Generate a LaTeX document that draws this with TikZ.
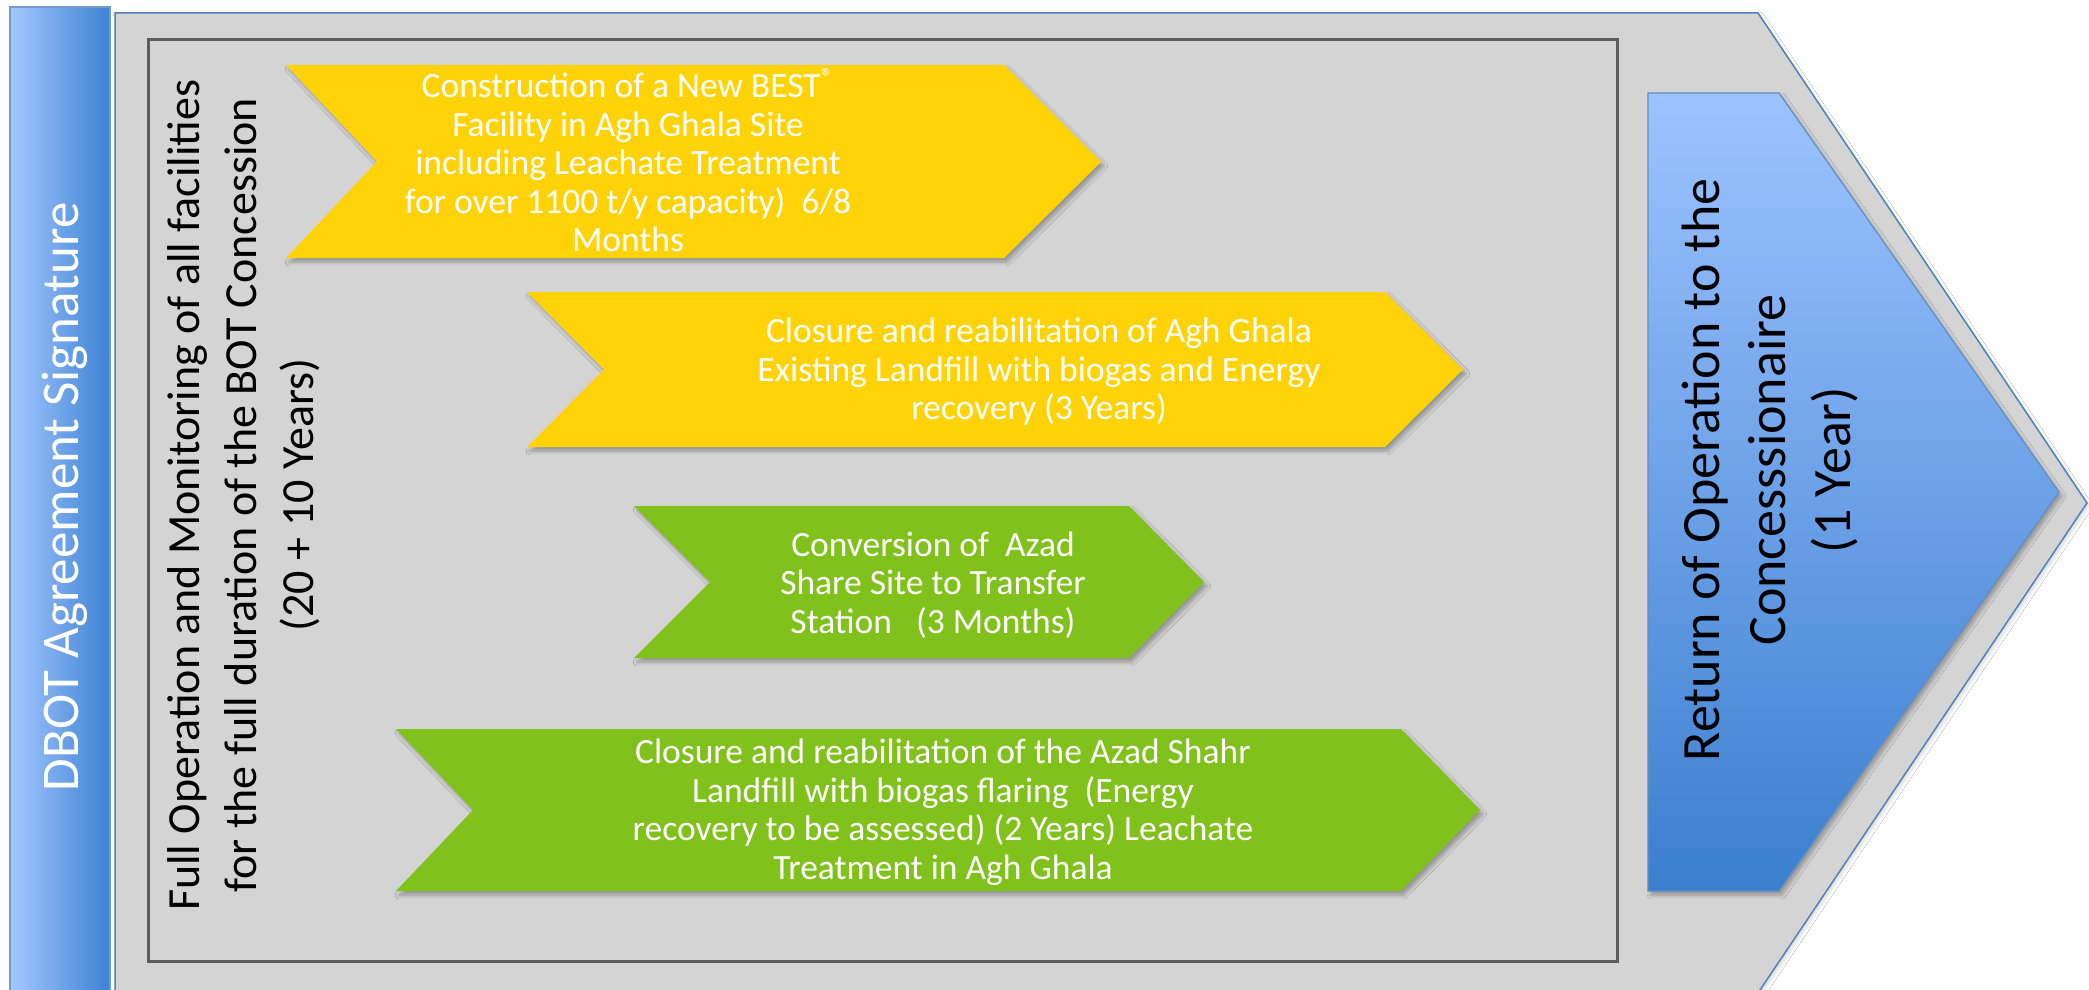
\documentclass[tikz,border=0pt]{standalone}
\usepackage{fontspec}
\setmainfont{Carlito}
\usetikzlibrary{shadows.blur}
\definecolor{bggray}{HTML}{D4D4D4}
\definecolor{edgeblue}{HTML}{4F81BD}
\definecolor{framegray}{HTML}{5C5C5C}
\definecolor{stepyellow}{HTML}{FFD308}
\definecolor{stepgreen}{HTML}{80C11C}
\definecolor{barlight}{HTML}{A3C7FF}
\definecolor{barmid}{HTML}{8AB6F5}
\definecolor{bardark}{HTML}{3E82D3}
\definecolor{rettop}{HTML}{9DC3FF}
\definecolor{retbot}{HTML}{3B7FCF}
\begin{document}
\begin{tikzpicture}[x=0.5pt,y=-0.5pt,
  softshadow/.style={blur shadow={shadow xshift=1.5pt, shadow yshift=-2pt, shadow blur steps=6, shadow opacity=30}},
  faintshadow/.style={blur shadow={shadow xshift=1pt, shadow yshift=-1.5pt, shadow blur steps=6, shadow opacity=15}},
  stepshape/.style={draw=none, softshadow},
  boxtext/.style={text=white, align=center, inner sep=0pt, font=\fontsize{17.75}{19.25}\selectfont},
  bartext/.style={text=white, inner sep=0pt, font=\fontsize{26.5}{32}\selectfont},
  optext/.style={text=black, align=center, inner sep=0pt, font=\fontsize{23}{28.5}\selectfont},
  rettext/.style={text=black, align=center, inner sep=0pt, font=\fontsize{27}{32.75}\selectfont}]
\useasboundingbox (0,0) rectangle (2089,990);
\fill[white] (0,0) rectangle (2089,990);

% left bar
\path[left color=barlight, middle color=barmid, right color=bardark, draw=edgeblue!80, line width=0.6pt]
  (10,7) rectangle (110,1000);

% main grey chevron
\path[fill=bggray, draw=edgeblue, line width=0.75pt, faintshadow]
  (115,13) -- (1758,13) -- (2087,503) -- (1758,993) -- (115,993) -- cycle;

% inner frame
\draw[framegray, line width=1.5pt] (148,40) rectangle (1617,961);

% return chevron
\path[top color=rettop, bottom color=retbot, draw=edgeblue!90, line width=0.6pt, softshadow]
  (1648,93) -- (1779,93) -- (2059,492) -- (1779,891) -- (1648,891) -- cycle;

% step chevrons
\path[fill=stepyellow, stepshape]
  (286,65) -- (1004,65) -- (1101,162) -- (1004,258) -- (286,258) -- (377,161.5) -- cycle;
\path[fill=stepyellow, stepshape]
  (527,292) -- (1385,292) -- (1463,369.5) -- (1385,447) -- (527,447) -- (604,369.5) -- cycle;
\path[fill=stepgreen, stepshape]
  (634,506) -- (1129,506) -- (1204,582) -- (1129,658) -- (634,658) -- (710,582) -- cycle;
\path[fill=stepgreen, stepshape]
  (396,729) -- (1401,729) -- (1480,810) -- (1401,891) -- (396,891) -- (473,810) -- cycle;

% texts
\node[bartext, rotate=90, anchor=base] (sig) at (78,497) {DBOT Agreement Signature};
\node[optext, rotate=90] (ops) at (244,495)
  {Full Operation and Monitoring of all facilities\\for the full duration of the BOT Concession\\(20 + 10 Years)};
\node[rettext, rotate=90] (ret) at (1770,470)
  {Return of Operation to the\\Concesssionaire\\(1 Year)};

\node[boxtext] (t1) at (628,160)
  {Construction of a New BEST\textsuperscript{®}\\Facility in Agh Ghala Site\\including Leachate Treatment\\for over 1100 t/y capacity)\ \ 6/8\\Months};
\node[boxtext] (t2) at (1039,372)
  {Closure and reabilitation of Agh Ghala\\Existing Landfill with biogas and Energy\\recovery (3 Years)};
\node[boxtext] (t3) at (933,585)
  {Conversion of\ \ Azad\\Share Site to Transfer\\Station\ \ \ (3 Months)};
\node[boxtext] (t4) at (943,812)
  {Closure and reabilitation of the Azad Shahr\\Landfill with biogas flaring\ \ (Energy\\recovery to be assessed) (2 Years) Leachate\\Treatment in Agh Ghala};
\end{tikzpicture}
\end{document}
